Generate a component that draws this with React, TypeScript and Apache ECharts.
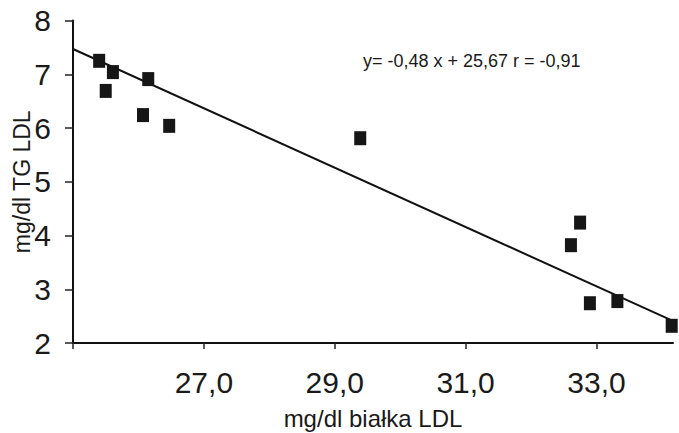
import React, { useEffect, useRef } from "react";
import * as echarts from "echarts";

const proteinLDL = [25.4, 25.61, 25.5, 26.15, 26.07, 26.47, 29.39, 32.75, 32.61, 32.9, 33.32, 34.15];
const tgLDL = [7.25, 7.04, 6.69, 6.91, 6.24, 6.04, 5.81, 4.24, 3.82, 2.74, 2.78, 2.32];
const fitX = [25, 34.15];
const fitY = [7.47, 2.42];
const equationText = "y= -0,48 x + 25,67 r = -0,91";
const xName = "mg/dl białka LDL";
const yName = "mg/dl TG LDL";

export default function App() {
  const ref = useRef<HTMLDivElement>(null);
  useEffect(() => {
    if (!ref.current) return;
    const chart = echarts.init(ref.current, undefined, { renderer: "svg" });
    const font = "'Liberation Sans', Arial, Helvetica, sans-serif";
    chart.setOption({
      animation: false,
      backgroundColor: "#ffffff",
      textStyle: { fontFamily: font },
      grid: { left: 73, right: 6, top: 20.5, bottom: 90, containLabel: false, outerBoundsMode: "none" },
      xAxis: {
        type: "value",
        min: 25,
        max: 34.17,
        interval: 2,
        name: xName,
        nameLocation: "middle",
        nameGap: 63,
        nameMoveOverlap: false,
        nameTextStyle: { fontSize: 24, color: "#1a1a1a", fontFamily: font },
        axisLine: { show: true, onZero: false, lineStyle: { color: "#111", width: 2 } },
        axisTick: { show: true, length: 6, lineStyle: { color: "#222", width: 1.5 } },
        axisLabel: {
          fontSize: 30,
          color: "#1a1a1a",
          margin: 24,
          fontFamily: font,
          showMaxLabel: false,
          formatter: (v: number) => (v === 25 || v % 2 !== 1 ? "" : v.toFixed(1).replace(".", ",")),
        },
        splitLine: { show: false },
      },
      yAxis: {
        type: "value",
        min: 2,
        max: 8,
        interval: 1,
        name: yName,
        nameLocation: "middle",
        nameGap: 40,
        nameRotate: 90,
        nameMoveOverlap: false,
        nameTextStyle: { fontSize: 23, color: "#1a1a1a", fontFamily: font },
        axisLine: { show: true, onZero: false, lineStyle: { color: "#111", width: 2 } },
        axisTick: { show: true, length: 8, lineStyle: { color: "#222", width: 1.5 } },
        axisLabel: { fontSize: 30, color: "#1a1a1a", margin: 22, fontFamily: font },
        splitLine: { show: false },
      },
      series: [
        {
          type: "line",
          data: fitX.map((x, i) => [x, fitY[i]]),
          showSymbol: false,
          symbol: "none",
          lineStyle: { color: "#111", width: 2 },
          z: 2,
          silent: true,
          clip: false,
        },
        {
          type: "scatter",
          data: proteinLDL.map((x, i) => [x, tgLDL[i]]),
          symbol: "rect",
          symbolSize: [12, 14],
          itemStyle: { color: "#161616", opacity: 1 },
          clip: false,
          z: 3,
        },
      ],
      graphic: [
        {
          type: "text",
          left: 363,
          top: 52,
          style: { text: equationText, fontSize: 18, fill: "#1a1a1a", fontFamily: font },
        },
      ],
    });
    return () => chart.dispose();
  }, []);
  return <div ref={ref} style={{ position: "fixed", left: 0, top: 0, width: 679, height: 433 }} />;
}
